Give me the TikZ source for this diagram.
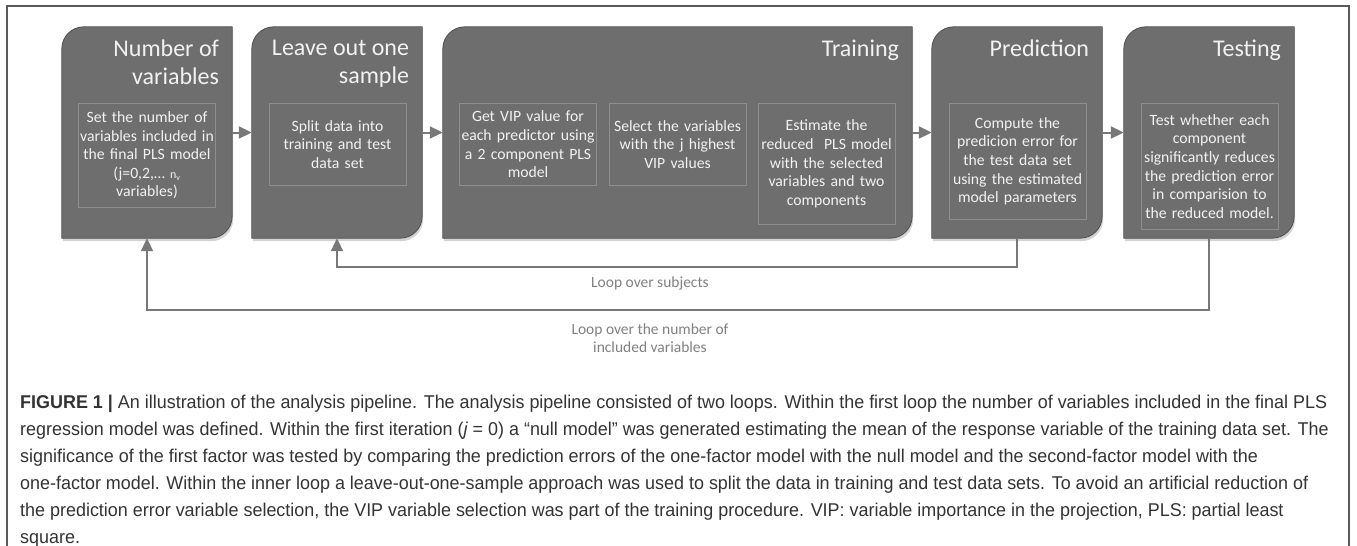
\documentclass[tikz,border=0pt]{standalone}
\usepackage{fontspec}
\setmainfont{Carlito}
\newfontfamily\capfont[FakeStretch=0.97]{Liberation Sans}
\usetikzlibrary{arrows.meta,shadows}

\definecolor{boxgray}{HTML}{6E6E6E}
\definecolor{boxedge}{HTML}{505050}
\definecolor{innergray}{HTML}{8E8E8E}
\definecolor{linegray}{HTML}{787878}
\definecolor{labelgray}{HTML}{808080}
\definecolor{capgray}{HTML}{333333}
\definecolor{framegray}{HTML}{5A5A5A}

\tikzset{
  stage/.style={rectangle, minimum height=211pt, inner sep=0pt},
  stagefill/.style={fill=boxgray, draw=boxedge, line width=0.8pt,
    drop shadow={shadow xshift=1pt, shadow yshift=-3pt, opacity=0.35}},
  stagetitle/.style={anchor=north east, inner sep=0pt, align=right,
    text=white!95!black, font=\fontsize{24}{28}\selectfont},
  substep/.style={draw=innergray, line width=0.8pt, anchor=north,
    text width=137pt, align=center, inner sep=0pt,
    text=white!95!black, font=\fontsize{15.7}{18.6}\selectfont},
  flow/.style={draw=linegray, line width=2pt, -{Triangle[length=13pt,width=12pt]}},
  looplabel/.style={text=labelgray, align=center, font=\fontsize{15.5}{18}\selectfont},
}

\begin{document}
\begin{tikzpicture}[x=1pt,y=-1pt]
\useasboundingbox (0,0) rectangle (1357,546);
\draw[framegray, line width=1.2pt] (7,546) -- (7,6) -- (1349,6) -- (1349,546);

% stages
\node[stage, minimum width=170pt] (nvar) at (147,132.5) {};
\node[stage, minimum width=170pt] (leave) at (337,132.5) {};
\node[stage, minimum width=469pt] (train) at (677.5,132.5) {};
\node[stage, minimum width=170pt] (pred) at (1017,132.5) {};
\node[stage, minimum width=170pt] (test) at (1209,132.5) {};
\foreach \s in {nvar,leave,train,pred,test}
  \filldraw[stagefill] (\s.south west) -- ([yshift=-22pt]\s.north west)
    arc[start angle=180, end angle=90, radius=22pt] -- (\s.north east)
    -- ([yshift=22pt]\s.south east)
    arc[start angle=0, end angle=-90, radius=22pt] -- cycle;

\node[stagetitle] (tnvar) at ([shift={(-13pt,-13pt)}]nvar.north east) {Number of\\variables};
\node[stagetitle] (tleave) at ([shift={(-13pt,-13pt)}]leave.north east) {Leave out one\\sample};
\node[stagetitle] (ttrain) at ([shift={(-13pt,-13pt)}]train.north east) {Training};
\node[stagetitle] (tpred) at ([shift={(-13pt,-13pt)}]pred.north east) {Prediction};
\node[stagetitle] (ttest) at ([shift={(-13pt,-13pt)}]test.north east) {Testing};

% inner steps
\node[substep, minimum height=104pt] (setn) at (147,103)
  {Set the number of\\variables included in\\the final PLS model\\(j=0,2,… {\fontsize{12}{12}\selectfont n\textsubscript{v}}\\variables)};
\node[substep, minimum height=82pt] (split) at (337.5,103)
  {Split data into\\training and test\\data set};
\node[substep, minimum height=82pt] (vip) at (528,103)
  {Get VIP value for\\each predictor using\\a 2 component PLS\\model};
\node[substep, minimum height=82pt] (sel) at (677.5,103)
  {Select the variables\\with the j highest\\VIP values};
\node[substep, minimum height=121pt] (est) at (826.5,103)
  {Estimate the\\reduced\ \ PLS model\\with the selected\\variables and two\\components};
\node[substep, minimum height=116pt] (comp) at (1017.5,103)
  {Compute the\\predicion error for\\the test data set\\using the estimated\\model parameters};
\node[substep, minimum height=126pt] (sig) at (1209.5,103)
  {Test whether each\\component\\significantly reduces\\the prediction error\\in comparision to\\the reduced model.};

% arrows
\draw[flow] (nvar) -- (leave);
\draw[flow] (leave) -- (train);
\draw[flow] (train) -- (pred);
\draw[flow] (pred) -- (test);
\draw[flow] (pred.south) -- ++(0,29) -| (leave.south);
\draw[flow] (test.south) -- ++(0,72) -| (nvar.south);

\node[looplabel] (lsub) at (650,283) {Loop over subjects};
\node[looplabel] (lnum) at (650,338) {Loop over the number of\\included variables};

% caption
\node[anchor=north west, inner sep=0pt, align=left, text=capgray,
  font=\capfont\fontsize{18.5}{27}\selectfont] (cap) at (20,395)
  {\textbf{FIGURE 1 |} An illustration of the analysis pipeline. The analysis pipeline consisted of two loops. Within the first loop the number of variables included in the final PLS\\
  regression model was defined. Within the first iteration ({\itshape j} = 0) a “null model” was generated estimating the mean of the response variable of the training data set. The\\
  significance of the first factor was tested by comparing the prediction errors of the one-factor model with the null model and the second-factor model with the\\
  one-factor model. Within the inner loop a leave-out-one-sample approach was used to split the data in training and test data sets. To avoid an artificial reduction of\\
  the prediction error variable selection, the VIP variable selection was part of the training procedure. VIP: variable importance in the projection, PLS: partial least\\
  square.};
\end{tikzpicture}
\end{document}
